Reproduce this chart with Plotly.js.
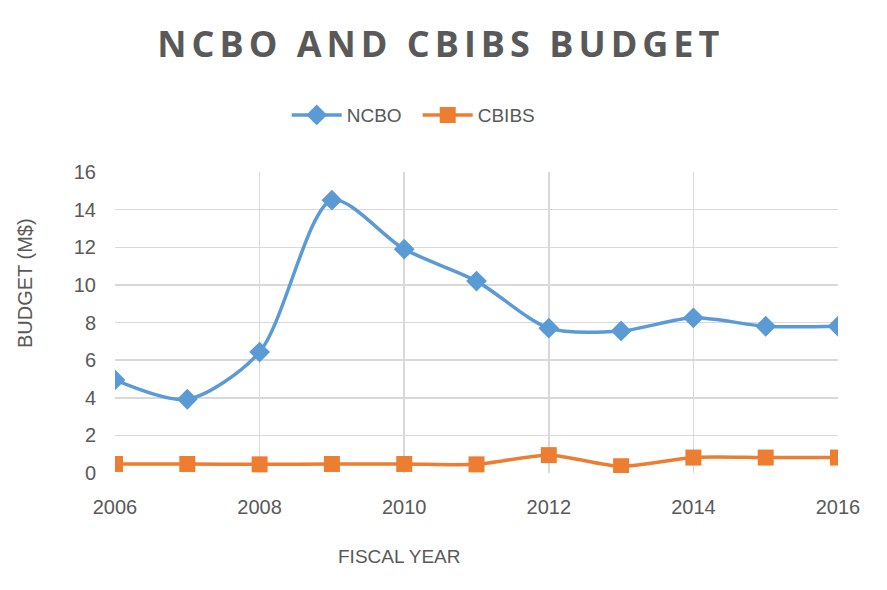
<!DOCTYPE html>
<html>
<head>
<meta charset="utf-8">
<script src="https://cdn.plot.ly/plotly-3.0.1.min.js"></script>
<style>
  body { margin: 0; background: #fff; }
  #chart { width: 887px; height: 590px; }
  .gtitle { letter-spacing: 5px; }
</style>
</head>
<body>
<div id="chart"></div>
<script>
// fiscal years and budgets in millions of dollars
var years = [2006, 2007, 2008, 2009, 2010, 2011, 2012, 2013, 2014, 2015, 2016];
var ncbo = [4.95, 3.92, 6.43, 14.5, 11.9, 10.2, 7.7, 7.55, 8.25, 7.8, 7.8];
var cbibs = [0.48, 0.48, 0.46, 0.48, 0.48, 0.46, 0.95, 0.36, 0.82, 0.82, 0.82];

var gray = '#595959';
var font = 'Liberation Sans, Arial, sans-serif';

var traceNcbo = {
  x: years,
  y: ncbo,
  name: 'NCBO',
  type: 'scatter',
  mode: 'lines+markers',
  line: {color: '#5b9bd5', width: 3.5, shape: 'spline', smoothing: 0.8},
  marker: {symbol: 'diamond', size: 16, color: '#5b9bd5'}
};

var traceCbibs = {
  x: years,
  y: cbibs,
  name: 'CBIBS',
  type: 'scatter',
  mode: 'lines+markers',
  line: {color: '#ed7d31', width: 3.5, shape: 'spline', smoothing: 0.8},
  marker: {symbol: 'square', size: 16, color: '#ed7d31'}
};

var layout = {
  width: 887,
  height: 590,
  margin: {l: 115, r: 49, t: 172, b: 117},
  paper_bgcolor: '#fff',
  plot_bgcolor: '#fff',
  title: {
    text: '<b>NCBO AND CBIBS BUDGET</b>',
    font: {family: 'Open Sans, sans-serif', size: 36, color: gray},
    x: 0.497, xanchor: 'center', y: 0.924, yanchor: 'middle'
  },
  showlegend: true,
  legend: {
    orientation: 'h',
    x: 0.2375, xanchor: 'left',
    y: 1.189, yanchor: 'middle',
    font: {family: font, size: 19, color: gray},
    itemwidth: 50,
    entrywidth: 66
  },
  xaxis: {
    range: [2006, 2016],
    tickvals: [2006, 2008, 2010, 2012, 2014, 2016],
    showgrid: true,
    gridcolor: '#d9d9d9',
    gridwidth: 1.5,
    zeroline: false,
    showline: false,
    ticks: '',
    ticklabelstandoff: 20,
    tickfont: {family: font, size: 20, color: gray}
  },
  yaxis: {
    range: [0, 16],
    dtick: 2,
    showgrid: true,
    gridcolor: '#d9d9d9',
    gridwidth: 1.5,
    zeroline: false,
    showline: false,
    ticks: '',
    ticklabelstandoff: 18,
    tickfont: {family: font, size: 20, color: gray}
  },
  annotations: [
    {
      text: 'FISCAL YEAR',
      xref: 'paper', yref: 'paper',
      x: 0.394, y: -0.279,
      xanchor: 'center', yanchor: 'middle',
      showarrow: false,
      font: {family: font, size: 19, color: gray}
    },
    {
      text: 'BUDGET (M$)',
      xref: 'paper', yref: 'paper',
      x: -0.1245, y: 0.631,
      xanchor: 'center', yanchor: 'middle',
      textangle: -90,
      showarrow: false,
      font: {family: font, size: 20, color: gray}
    }
  ]
};

Plotly.newPlot('chart', [traceNcbo, traceCbibs], layout, {displayModeBar: false, staticPlot: true});
</script>
</body>
</html>
